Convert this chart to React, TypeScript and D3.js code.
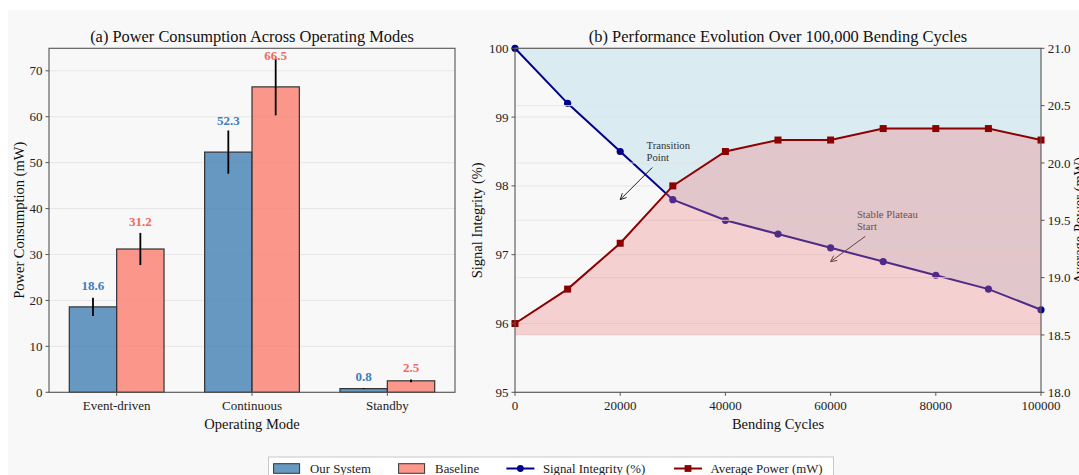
import React from "react";
import * as d3 from "d3";

const FONT = "'Liberation Serif', 'Times New Roman', Times, serif";

// Panel (a): power consumption per operating mode
const modes = ["Event-driven", "Continuous", "Standby"];
const ourSystem = [18.6, 52.3, 0.8];
const ourSystemErr = [2.0, 4.7, 0.1];
const baseline = [31.2, 66.5, 2.5];
const baselineErr = [3.5, 6.2, 0.3];
const powerTicks = [0, 10, 20, 30, 40, 50, 60, 70];

// Panel (b): durability over bending cycles
const cycles = [0, 10000, 20000, 30000, 40000, 50000, 60000, 70000, 80000, 90000, 100000];
const signalIntegrity = [100, 99.2, 98.5, 97.8, 97.5, 97.3, 97.1, 96.9, 96.7, 96.5, 96.2];
const averagePower = [18.6, 18.9, 19.3, 19.8, 20.1, 20.2, 20.2, 20.3, 20.3, 20.3, 20.2];
const cycleTicks = [0, 20000, 40000, 60000, 80000, 100000];
const integrityTicks = [95, 96, 97, 98, 99, 100];
const powerAxisTicks = [18.0, 18.5, 19.0, 19.5, 20.0, 20.5, 21.0];

const annotations = [
  { lines: ["Transition", "Point"], xy: [20000, 97.8], xytext: [25000, 98.5] },
  { lines: ["Stable Plateau", "Start"], xy: [60000, 96.9], xytext: [65000, 97.5] },
];

const BLUE = "#4682B4";
const SALMON = "#FA8072";
const BLUE_TEXT = "#3F7DBA";
const RED_TEXT = "#F2695D";
const LINE_BLUE = "#00008B";
const LINE_RED = "#8B0000";
const SPINE = "#555";
const GRID = "#e4e4e4";

let measureCtx: CanvasRenderingContext2D | null = null;
function textWidth(text: string, size: number, weight = "normal") {
  if (!measureCtx) {
    const c = document.createElement("canvas");
    measureCtx = c.getContext("2d");
  }
  if (!measureCtx) return text.length * size * 0.5;
  measureCtx.font = `${weight} ${size}px ${FONT}`;
  return measureCtx.measureText(text).width;
}

const A = { left: 49, right: 455, top: 48.3, bottom: 392.3 };
const B = { left: 515, right: 1041, top: 48.3, bottom: 392.3 };

function PanelA() {
  const x = d3.scaleLinear().domain([-0.5, 2.5]).range([A.left, A.right]);
  const y = d3.scaleLinear().domain([0, 74.9]).range([A.bottom, A.top]);
  const bw = 0.35;
  const series = [
    { values: ourSystem, errs: ourSystemErr, color: BLUE, text: BLUE_TEXT, off: -bw },
    { values: baseline, errs: baselineErr, color: SALMON, text: RED_TEXT, off: 0 },
  ];
  return (
    <g>
      {powerTicks.map((t) => (
        <line key={"g" + t} x1={A.left} x2={A.right} y1={y(t)} y2={y(t)} stroke={GRID} strokeWidth={0.9} />
      ))}
      {series.map((s, si) =>
        s.values.map((v, i) => {
          const x0 = x(i + s.off);
          const x1 = x(i + s.off + bw);
          return (
            <rect
              key={`b${si}-${i}`}
              x={x0}
              y={y(v)}
              width={x1 - x0}
              height={y(0) - y(v)}
              fill={s.color}
              fillOpacity={0.82}
              stroke="#333"
              strokeWidth={1.2}
            />
          );
        })
      )}
      {series.map((s, si) =>
        s.values.map((v, i) => {
          const cx = x(i + s.off + bw / 2);
          const e = s.errs[i];
          return (
            <g key={`e${si}-${i}`}>
              <line x1={cx} x2={cx} y1={y(v - e)} y2={y(v + e)} stroke="#000" strokeWidth={1.8} />
              <text
                x={cx}
                y={y(Math.min(v + e + 1.6, v + 5.9))}
                textAnchor="middle"
                fontFamily={FONT}
                fontWeight="bold"
                fontSize={13}
                fill={s.text}
              >
                {v.toFixed(1)}
              </text>
            </g>
          );
        })
      )}
      <rect x={A.left} y={A.top} width={A.right - A.left} height={A.bottom - A.top} fill="none" stroke={SPINE} strokeWidth={1.1} />
      {powerTicks.map((t) => (
        <g key={"yt" + t}>
          <line x1={A.left - 3.5} x2={A.left} y1={y(t)} y2={y(t)} stroke={SPINE} strokeWidth={1} />
          <text x={A.left - 6.5} y={y(t)} dy="0.35em" textAnchor="end" fontFamily={FONT} fontSize={13} fill="#222">
            {t}
          </text>
        </g>
      ))}
      {modes.map((m, i) => (
        <g key={"xt" + m}>
          <line x1={x(i)} x2={x(i)} y1={A.bottom} y2={A.bottom + 3.5} stroke={SPINE} strokeWidth={1} />
          <text x={x(i)} y={A.bottom + 17.5} textAnchor="middle" fontFamily={FONT} fontSize={13} fill="#222">
            {m}
          </text>
        </g>
      ))}
      <text x={(A.left + A.right) / 2} y={41.5} textAnchor="middle" fontFamily={FONT} fontSize={16.4} fill="#111">
        (a) Power Consumption Across Operating Modes
      </text>
      <text x={(A.left + A.right) / 2} y={428.5} textAnchor="middle" fontFamily={FONT} fontSize={14.5} fill="#111">
        Operating Mode
      </text>
      <text
        transform={`translate(19, ${(A.top + A.bottom) / 2}) rotate(-90)`}
        textAnchor="middle"
        dominantBaseline="central"
        fontFamily={FONT}
        fontSize={14.5}
        fill="#111"
      >
        Power Consumption (mW)
      </text>
    </g>
  );
}

function PanelB() {
  const x = d3.scaleLinear().domain([0, 100000]).range([B.left, B.right]);
  const y1 = d3.scaleLinear().domain([95, 100]).range([B.bottom, B.top]);
  const y2 = d3.scaleLinear().domain([18, 21]).range([B.bottom, B.top]);

  const integrityArea = d3
    .area<number>()
    .x((_, i) => x(cycles[i]))
    .y0(() => y1(100))
    .y1((d) => y1(d));
  const powerArea = d3
    .area<number>()
    .x((_, i) => x(cycles[i]))
    .y0(() => y2(18.5))
    .y1((d) => y2(d));
  const integrityLine = d3
    .line<number>()
    .x((_, i) => x(cycles[i]))
    .y((d) => y1(d));
  const powerLine = d3
    .line<number>()
    .x((_, i) => x(cycles[i]))
    .y((d) => y2(d));

  const annFont = 10.7;
  const lineH = 12;

  return (
    <g>
      <path d={integrityArea(signalIntegrity) || ""} fill="#ADD8E6" fillOpacity={0.4} />
      {integrityTicks.map((t) => (
        <line key={"g1" + t} x1={B.left} x2={B.right} y1={y1(t)} y2={y1(t)} stroke={GRID} strokeWidth={0.9} />
      ))}
      <path d={integrityLine(signalIntegrity) || ""} fill="none" stroke={LINE_BLUE} strokeWidth={2} />
      {signalIntegrity.map((v, i) => (
        <circle key={"c" + i} cx={x(cycles[i])} cy={y1(v)} r={3.6} fill={LINE_BLUE} />
      ))}
      {annotations.map((a, k) => {
        const widths = a.lines.map((l) => textWidth(l, annFont));
        const w = Math.max(...widths);
        const h = a.lines.length * lineH;
        const tx = x(a.xytext[0]);
        const cy = y1(a.xytext[1]);
        const ccx = tx + w / 2;
        const hx = x(a.xy[0]);
        const hy = y1(a.xy[1]);
        const dx = hx - ccx;
        const dy = hy - cy;
        const t = Math.min((w / 2 + 2) / Math.abs(dx || 1e-6), (h / 2 + 4) / Math.abs(dy || 1e-6));
        const sx = ccx + dx * t;
        const sy = cy + dy * t;
        const ang = Math.atan2(hy - sy, hx - sx);
        const hl = 6;
        const hw = 3;
        const bx = hx - hl * Math.cos(ang);
        const by = hy - hl * Math.sin(ang);
        const px = -Math.sin(ang) * hw;
        const py = Math.cos(ang) * hw;
        return (
          <g key={"a" + k}>
            {a.lines.map((l, li) => (
              <text
                key={l}
                x={tx}
                y={cy - h / 2 + lineH * li + lineH / 2}
                dy="0.35em"
                fontFamily={FONT}
                fontSize={annFont}
                fill="#333"
              >
                {l}
              </text>
            ))}
            <line x1={sx} y1={sy} x2={hx} y2={hy} stroke="#222" strokeWidth={1} />
            <path
              d={`M${bx + px},${by + py} L${hx},${hy} L${bx - px},${by - py}`}
              fill="none"
              stroke="#222"
              strokeWidth={1}
            />
          </g>
        );
      })}
      {powerAxisTicks.map((t) => (
        <line key={"g2" + t} x1={B.left} x2={B.right} y1={y2(t)} y2={y2(t)} stroke={GRID} strokeWidth={0.9} />
      ))}
      <path d={powerArea(averagePower) || ""} fill="#F08080" fillOpacity={0.33} />
      <path d={powerLine(averagePower) || ""} fill="none" stroke={LINE_RED} strokeWidth={2} />
      {averagePower.map((v, i) => (
        <rect key={"s" + i} x={x(cycles[i]) - 3.5} y={y2(v) - 3.5} width={7} height={7} fill={LINE_RED} />
      ))}
      <rect x={B.left} y={B.top} width={B.right - B.left} height={B.bottom - B.top} fill="none" stroke={SPINE} strokeWidth={1.1} />
      {integrityTicks.map((t) => (
        <g key={"yl" + t}>
          <line x1={B.left - 3.5} x2={B.left} y1={y1(t)} y2={y1(t)} stroke={SPINE} strokeWidth={1} />
          <text x={B.left - 6.5} y={y1(t)} dy="0.35em" textAnchor="end" fontFamily={FONT} fontSize={13} fill="#222">
            {t}
          </text>
        </g>
      ))}
      {powerAxisTicks.map((t) => (
        <g key={"yr" + t}>
          <line x1={B.right} x2={B.right + 3.5} y1={y2(t)} y2={y2(t)} stroke={SPINE} strokeWidth={1} />
          <text x={B.right + 6.8} y={y2(t)} dy="0.35em" textAnchor="start" fontFamily={FONT} fontSize={13} fill="#222">
            {t.toFixed(1)}
          </text>
        </g>
      ))}
      {cycleTicks.map((t) => (
        <g key={"xt" + t}>
          <line x1={x(t)} x2={x(t)} y1={B.bottom} y2={B.bottom + 3.5} stroke={SPINE} strokeWidth={1} />
          <text x={x(t)} y={B.bottom + 17.5} textAnchor="middle" fontFamily={FONT} fontSize={13} fill="#222">
            {t}
          </text>
        </g>
      ))}
      <text x={(B.left + B.right) / 2} y={41.5} textAnchor="middle" fontFamily={FONT} fontSize={16.4} fill="#111">
        (b) Performance Evolution Over 100,000 Bending Cycles
      </text>
      <text x={(B.left + B.right) / 2} y={428.5} textAnchor="middle" fontFamily={FONT} fontSize={14.5} fill="#111">
        Bending Cycles
      </text>
      <text
        transform={`translate(476.5, ${(B.top + B.bottom) / 2}) rotate(-90)`}
        textAnchor="middle"
        dominantBaseline="central"
        fontFamily={FONT}
        fontSize={14.5}
        fill="#111"
      >
        Signal Integrity (%)
      </text>
      <text
        transform={`translate(1078.5, ${(B.top + B.bottom) / 2}) rotate(-90)`}
        textAnchor="middle"
        dominantBaseline="central"
        fontFamily={FONT}
        fontSize={14.5}
        fill="#111"
      >
        Average Power (mW)
      </text>
    </g>
  );
}

const legendItems = [
  { label: "Our System", kind: "patch", color: BLUE },
  { label: "Baseline", kind: "patch", color: SALMON },
  { label: "Signal Integrity (%)", kind: "circle", color: LINE_BLUE },
  { label: "Average Power (mW)", kind: "square", color: LINE_RED },
];
const legendSlots = [273.6, 398.6, 506.4, 674];

function Legend() {
  const cy = 468.5;
  const hw = 26;
  return (
    <g>
      <rect x={268.5} y={457} width={565} height={32} fill="#fff" fillOpacity={0.9} stroke="#c8c8c8" strokeWidth={1} />
      {legendItems.map((it, i) => {
        const lx = legendSlots[i];
        return (
          <g key={it.label}>
            {it.kind === "patch" ? (
              <rect x={lx} y={cy - 4.8} width={hw} height={9.6} fill={it.color} fillOpacity={0.82} stroke="#333" strokeWidth={1} />
            ) : (
              <g>
                <line x1={lx} x2={lx + hw + 2} y1={cy} y2={cy} stroke={it.color} strokeWidth={2} />
                {it.kind === "circle" ? (
                  <circle cx={lx + (hw + 2) / 2} cy={cy} r={3.4} fill={it.color} />
                ) : (
                  <rect x={lx + (hw + 2) / 2 - 3.4} y={cy - 3.4} width={6.8} height={6.8} fill={it.color} />
                )}
              </g>
            )}
            <text x={lx + hw + 10.5} y={cy} dy="0.35em" fontFamily={FONT} fontSize={12.8} fill="#222">
              {it.label}
            </text>
          </g>
        );
      })}
    </g>
  );
}

export default function App() {
  return (
    <svg
      width={1079}
      height={475}
      viewBox="0 0 1079 475"
      style={{ position: "absolute", left: 0, top: 0, display: "block" }}
    >
      <rect x={0} y={0} width={1079} height={475} fill="#fff" />
      <rect x={8} y={10} width={1071} height={465} fill="#f8f8f8" />
      <PanelA />
      <PanelB />
      <Legend />
    </svg>
  );
}
